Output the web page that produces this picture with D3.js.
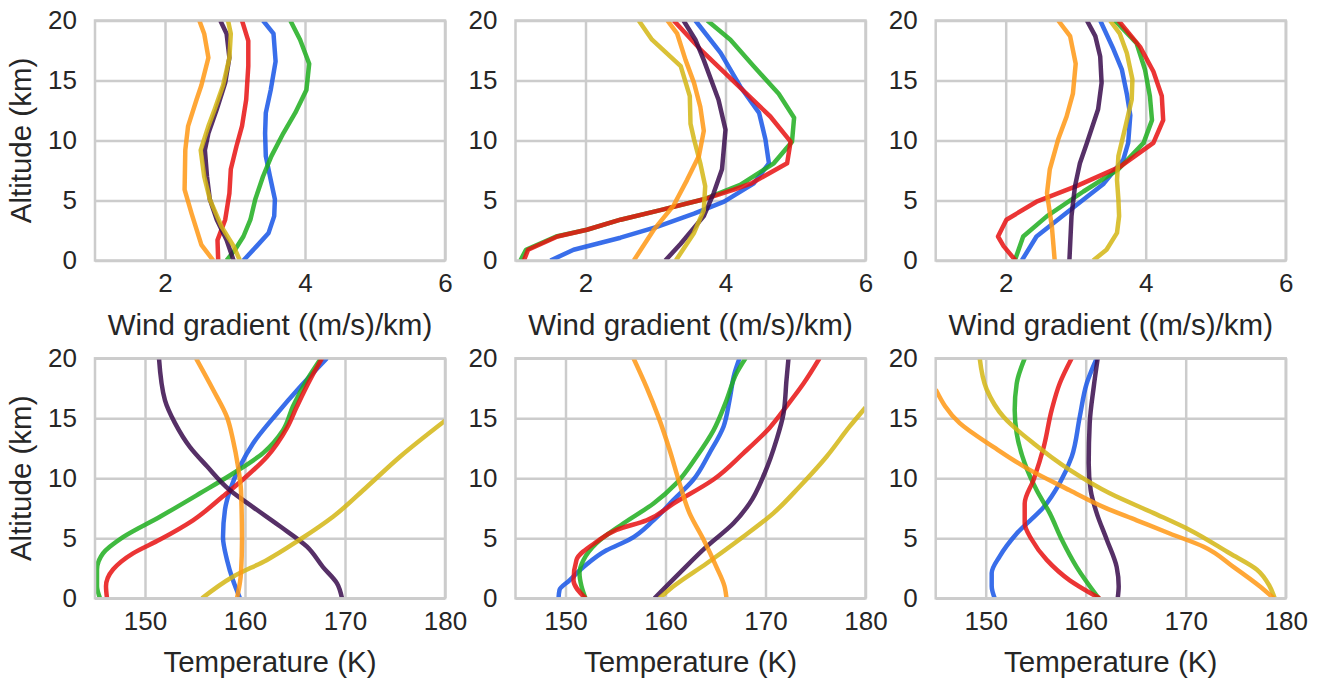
<!DOCTYPE html>
<html>
<head>
<meta charset="utf-8">
<script src="https://cdn.jsdelivr.net/npm/d3@7"></script>
<style>
  html, body { margin: 0; padding: 0; background: #ffffff; }
  svg { display: block; }
  text { font-family: "Liberation Sans", Arial, Helvetica, sans-serif; fill: #262626; }
</style>
</head>
<body>
<svg id="chart" width="1324" height="683"></svg>
<script>
// ---- series styling order (drawn in this order) ----
const seriesKeys = ["blue", "green", "red", "purple", "yellow", "orange"];
const seriesColors = {
  blue: "#1655e6",
  green: "#1fae1f",
  red: "#e81212",
  purple: "#380c4c",
  yellow: "#d4b614",
  orange: "#ff9814"
};

// ---- axis ticks ----
const altitudeTicks = [0, 5, 10, 15, 20];
const windTicks = [2, 4, 6];
const tempTicks = [150, 160, 170, 180];
const altitudeDomain = [0, 20];
const windDomain = [1, 6];
const tempDomain = [145, 180];

// ---- wind gradient profiles: [(m/s)/km, altitude km] ----
const windA = {
  blue:   [[3.12,0],[3.31,1.2],[3.48,2.3],[3.56,3.7],[3.57,5.1],[3.50,7.0],[3.44,8.7],[3.43,10.6],[3.44,12.3],[3.51,14.2],[3.58,16.6],[3.55,18.9],[3.40,20]],
  green:  [[2.88,0],[3.00,0.9],[3.12,2.0],[3.22,3.4],[3.29,5.1],[3.40,7.0],[3.52,8.7],[3.69,10.6],[3.86,12.3],[4.02,14.2],[4.06,16.4],[3.93,18.4],[3.79,20]],
  red:    [[2.76,0],[2.75,1.7],[2.86,3.4],[2.92,5.6],[2.94,7.6],[3.02,9.5],[3.10,11.2],[3.16,13.4],[3.19,16.2],[3.19,18.3],[3.10,20]],
  purple: [[2.98,0],[2.88,1.7],[2.74,3.4],[2.64,5.1],[2.60,7.0],[2.57,9.2],[2.62,10.6],[2.74,12.6],[2.86,14.8],[2.92,16.9],[2.88,18.9],[2.79,20]],
  yellow: [[3.07,0],[2.98,1.2],[2.81,2.8],[2.64,5.1],[2.56,7.0],[2.51,9.2],[2.62,11.2],[2.71,12.6],[2.83,14.6],[2.92,16.9],[2.94,18.9],[2.90,20]],
  orange: [[2.69,0],[2.52,1.3],[2.38,3.9],[2.28,5.9],[2.29,9.2],[2.33,11.2],[2.45,13.4],[2.52,14.6],[2.62,16.9],[2.56,18.9],[2.49,20]]
};
const windB = {
  blue:   [[1.50,0],[1.83,0.9],[2.50,1.9],[3.02,2.8],[3.55,3.9],[3.98,4.9],[4.40,6.4],[4.62,8.1],[4.57,10.1],[4.48,12.3],[4.21,14.5],[3.93,17.3],[3.57,20]],
  green:  [[1.07,0],[1.15,0.9],[1.58,2.0],[2.02,2.56],[2.50,3.4],[3.07,4.2],[3.69,5.1],[4.21,6.3],[4.69,8.1],[4.95,9.9],[4.98,11.9],[4.76,13.9],[4.40,16.2],[4.07,18.4],[3.74,20]],
  red:    [[1.12,0],[1.18,0.9],[1.60,2.0],[2.02,2.56],[2.50,3.4],[3.07,4.2],[3.69,5.1],[4.12,5.9],[4.36,6.4],[4.88,8.1],[4.93,9.9],[4.64,12.0],[4.21,14.4],[3.64,17.6],[3.26,20]],
  purple: [[3.14,0],[3.36,1.4],[3.69,3.7],[3.83,5.6],[3.95,7.6],[4.00,10.9],[3.90,13.4],[3.69,16.7],[3.57,18.4],[3.40,20]],
  yellow: [[3.29,0],[3.55,2.3],[3.69,4.2],[3.71,6.2],[3.64,8.1],[3.55,10.1],[3.50,11.4],[3.49,13.7],[3.36,16.2],[2.95,18.4],[2.76,20]],
  orange: [[2.69,0],[2.98,2.6],[3.26,4.6],[3.45,6.7],[3.62,8.7],[3.69,10.8],[3.64,12.8],[3.55,14.8],[3.43,16.7],[3.31,18.9],[3.17,20]]
};
const windC = {
  blue:   [[2.23,0],[2.44,2.0],[2.92,4.2],[3.40,6.4],[3.68,8.4],[3.75,9.8],[3.78,12.1],[3.73,13.9],[3.66,15.9],[3.54,17.6],[3.35,20]],
  green:  [[2.13,0],[2.25,2.0],[2.59,3.7],[3.11,5.75],[3.61,7.6],[3.97,9.8],[4.09,11.7],[4.06,13.7],[3.99,15.9],[3.87,18.1],[3.56,20]],
  red:    [[2.14,0],[1.97,1.2],[1.89,2.0],[2.01,3.4],[2.44,4.9],[3.01,6.2],[3.63,7.8],[4.11,9.8],[4.25,11.7],[4.23,13.7],[4.11,15.75],[3.92,17.8],[3.61,20]],
  purple: [[2.91,0],[2.94,3.7],[2.99,6.2],[3.06,8.1],[3.16,9.8],[3.32,12.6],[3.37,14.8],[3.35,17.0],[3.28,18.7],[3.16,20]],
  yellow: [[3.25,0],[3.44,0.9],[3.59,2.3],[3.62,3.7],[3.61,5.1],[3.59,6.7],[3.61,8.7],[3.72,11.4],[3.80,13.4],[3.81,15.1],[3.73,17.3],[3.63,18.9],[3.49,20]],
  orange: [[2.70,0],[2.66,2.8],[2.59,5.6],[2.63,7.6],[2.75,10.1],[2.87,12.0],[2.96,13.9],[3.00,16.4],[2.92,18.7],[2.75,20]]
};

// ---- temperature profiles: [K, altitude km] ----
const tempA = {
  blue:   [[159.5,0],[158.8,1.5],[158.2,3.2],[157.8,5.1],[158.0,7.4],[158.5,9.0],[159.5,11.0],[160.8,12.9],[163.2,15.4],[165.5,17.6],[168.2,20]],
  green:  [[145.5,0],[145.2,1.0],[145.2,2.4],[145.8,3.75],[147.8,5.1],[151.5,6.8],[155.5,8.75],[158.8,10.4],[161.8,12.1],[163.8,14.0],[164.8,16.0],[166.2,18.2],[167.6,20]],
  red:    [[146.2,0],[146.1,1.0],[146.8,2.4],[148.8,3.75],[151.5,4.9],[154.8,6.5],[157.8,8.5],[159.8,9.9],[162.2,11.8],[164.2,14.2],[165.2,16.0],[166.5,18.2],[167.7,20]],
  purple: [[169.7,0],[169.2,1.25],[167.8,2.6],[166.2,4.3],[163.5,6.0],[160.8,7.6],[158.5,9.0],[156.2,11.0],[154.5,12.6],[153.0,14.6],[152.0,16.5],[151.4,20]],
  yellow: [[155.7,0],[158.8,1.8],[162.2,3.2],[165.5,4.9],[168.8,6.8],[172.2,9.3],[175.5,11.8],[180.0,14.8]],
  orange: [[159.2,0],[159.6,2.1],[159.7,4.9],[159.6,9.0],[159.3,11.0],[158.8,13.2],[158.2,15.1],[156.8,17.4],[155.1,20]]
};
const tempB = {
  blue:   [[149.3,0],[149.4,0.7],[150.4,1.5],[151.8,2.6],[154.1,4.0],[156.4,4.9],[158.8,6.5],[160.8,8.2],[162.8,9.9],[164.4,12.1],[165.8,14.3],[166.4,16.5],[166.9,18.75],[167.4,20]],
  green:  [[152.0,0],[151.6,1.0],[151.4,2.1],[151.8,3.2],[153.1,4.6],[155.8,6.25],[158.8,7.9],[161.1,9.6],[163.1,11.8],[164.8,14.0],[166.1,16.5],[167.1,18.75],[168.0,20]],
  red:    [[152.0,0],[150.8,1.5],[151.1,3.2],[153.1,4.7],[155.1,5.7],[158.1,6.5],[160.8,7.9],[164.8,9.9],[167.8,12.1],[170.4,14.2],[172.1,16.0],[173.8,17.9],[175.4,20]],
  purple: [[158.9,0],[161.4,2.1],[164.1,4.3],[166.8,6.25],[168.4,7.9],[169.9,10.4],[171.1,13.2],[171.8,15.4],[172.1,18.2],[172.3,20]],
  yellow: [[159.4,0],[160.8,1.0],[164.1,2.9],[167.4,4.9],[170.8,7.1],[173.4,9.3],[176.1,11.8],[178.4,14.3],[180.0,15.9]],
  orange: [[166.1,0],[165.9,1.0],[165.1,2.6],[163.8,4.9],[162.4,7.1],[161.4,9.6],[160.4,12.4],[159.3,15.1],[158.1,17.6],[156.8,20]]
};
const tempC = {
  blue:   [[150.9,0],[150.6,1.0],[150.6,2.1],[151.4,3.5],[153.1,5.4],[155.8,7.6],[157.4,9.6],[158.6,11.8],[159.4,15.1],[160.1,17.9],[161.1,20]],
  green:  [[161.3,0],[159.1,2.6],[157.6,4.9],[156.4,7.1],[155.1,9.0],[153.9,11.25],[153.1,13.75],[152.9,15.7],[153.1,17.9],[153.9,20]],
  red:    [[161.4,0],[158.4,1.5],[156.1,3.2],[154.6,4.9],[153.9,6.25],[153.9,7.9],[154.8,9.9],[155.8,12.6],[156.6,15.7],[157.4,17.9],[158.6,20]],
  purple: [[163.2,0],[163.3,1.0],[163.1,2.6],[162.1,4.9],[161.1,7.1],[160.5,9.0],[160.3,11.25],[160.4,14.6],[160.8,17.6],[161.2,20]],
  yellow: [[178.9,0],[178.4,1.0],[177.1,2.4],[174.4,3.75],[170.4,5.7],[166.8,7.1],[162.4,8.75],[158.4,10.7],[154.8,12.9],[151.8,15.1],[150.1,17.4],[149.4,20]],
  orange: [[178.8,0],[177.4,1.0],[174.8,2.6],[171.8,4.3],[168.4,5.4],[165.1,6.5],[161.8,7.6],[158.4,9.0],[154.4,10.7],[150.8,12.6],[147.4,14.6],[145.0,17.4]]
};

// ---- layout ----
const panelLeft = [95, 515.5, 935.7];
const rowTop = [20.5, 358.3];
const panelW = 350, panelH = 240;
const gridColor = "#cccccc";
const tickFont = 26, labelFont = 29.5;

const panels = [
  { col: 0, row: 0, data: windA, domain: windDomain, ticks: windTicks, xlabel: "Wind gradient ((m/s)/km)", curve: d3.curveLinear },
  { col: 1, row: 0, data: windB, domain: windDomain, ticks: windTicks, xlabel: "Wind gradient ((m/s)/km)", curve: d3.curveLinear },
  { col: 2, row: 0, data: windC, domain: windDomain, ticks: windTicks, xlabel: "Wind gradient ((m/s)/km)", curve: d3.curveLinear },
  { col: 0, row: 1, data: tempA, domain: tempDomain, ticks: tempTicks, xlabel: "Temperature (K)", curve: d3.curveMonotoneY },
  { col: 1, row: 1, data: tempB, domain: tempDomain, ticks: tempTicks, xlabel: "Temperature (K)", curve: d3.curveMonotoneY },
  { col: 2, row: 1, data: tempC, domain: tempDomain, ticks: tempTicks, xlabel: "Temperature (K)", curve: d3.curveMonotoneY }
];

const svg = d3.select("#chart");
const defs = svg.append("defs");

panels.forEach((p, i) => {
  const x0 = panelLeft[p.col], y0 = rowTop[p.row];
  const g = svg.append("g").attr("transform", `translate(${x0},${y0})`);
  const x = d3.scaleLinear().domain(p.domain).range([0, panelW]);
  const y = d3.scaleLinear().domain(altitudeDomain).range([panelH, 0]);

  // grid lines
  const xAxis = d3.axisBottom(x).tickValues(p.ticks).tickSize(-panelH).tickPadding(13).tickFormat(d3.format("d"));
  const yAxis = d3.axisLeft(y).tickValues(altitudeTicks).tickSize(-panelW).tickPadding(18).tickFormat(d3.format("d"));

  const gx = g.append("g").attr("transform", `translate(0,${panelH})`).call(xAxis);
  const gy = g.append("g").call(yAxis);
  [gx, gy].forEach(a => {
    a.select(".domain").remove();
    a.selectAll(".tick line").attr("stroke", gridColor).attr("stroke-width", 2.5);
    a.selectAll(".tick text").attr("font-size", tickFont).attr("fill", "#262626")
      .attr("font-family", '"Liberation Sans", Arial, sans-serif');
  });
  gx.selectAll(".tick text").attr("dy", "0.71em");

  // profile lines
  const clipId = "clip" + i;
  defs.append("clipPath").attr("id", clipId)
    .append("rect").attr("x", 0).attr("y", 0).attr("width", panelW).attr("height", panelH);

  const line = d3.line().x(d => x(d[0])).y(d => y(d[1])).curve(p.curve);
  const lines = g.append("g").attr("clip-path", `url(#${clipId})`);
  seriesKeys.forEach(k => {
    lines.append("path")
      .datum(p.data[k])
      .attr("d", line)
      .attr("fill", "none")
      .attr("stroke", seriesColors[k])
      .attr("stroke-width", 4.5)
      .attr("stroke-opacity", 0.85)
      .attr("stroke-linejoin", "round");
  });

  // frame
  g.append("rect").attr("x", 0).attr("y", 0).attr("width", panelW).attr("height", panelH)
    .attr("fill", "none").attr("stroke", gridColor).attr("stroke-width", 2.5);

  // x label
  g.append("text")
    .attr("x", panelW / 2).attr("y", panelH + 74)
    .attr("text-anchor", "middle").attr("font-size", labelFont)
    .text(p.xlabel);

  // y label on the left column
  if (p.col === 0) {
    g.append("text")
      .attr("transform", `translate(${31 - x0},${panelH / 2}) rotate(-90)`)
      .attr("text-anchor", "middle").attr("font-size", labelFont)
      .text("Altitude (km)");
  }
});
</script>
</body>
</html>
